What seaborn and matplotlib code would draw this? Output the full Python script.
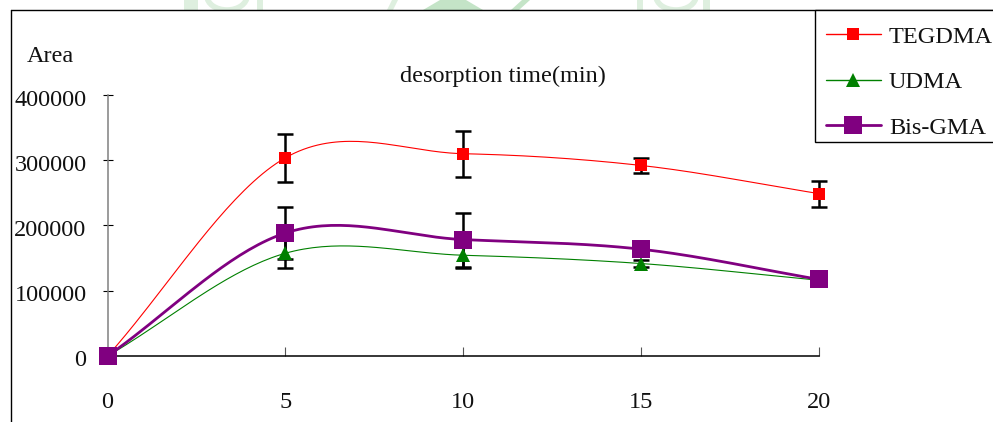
import numpy as np
import pandas as pd
import matplotlib
matplotlib.use("Agg")
import matplotlib.pyplot as plt
import matplotlib.transforms as mtransforms
from matplotlib.lines import Line2D
from matplotlib.patches import Rectangle, Polygon, Ellipse
import seaborn as sns

# Desorption data (peak area vs. desorption time)
time_min = [0, 5, 10, 15, 20]
tegdma = [0, 303800, 310000, 292000, 248800]
tegdma_err = [0, 36700, 35200, 12200, 19900]
udma = [0, 157500, 154400, 141700, 116000]
udma_err = [0, 23400, 20000, 5600, 4000]
bisgma = [0, 188500, 178400, 163600, 117300]
bisgma_err = [0, 40200, 41300, 8000, 5000]

series_names = ["TEGDMA", "UDMA", "Bis-GMA"]
series_colors = ["#FF0000", "#008000", "#800080"]
series_markers = ["s", "^", "s"]
series_msize = [8.6, 10.0, 13.3]
series_lw = [0.8, 0.8, 2.0]

W, H = 993, 422

sns.set_theme(style="white")
plt.rcParams["font.family"] = ["Liberation Serif", "DejaVu Serif"]


def fx(px):
    return px / W


def fy(py):
    return 1 - py / H


def smooth_curve(x, y, n=40):
    """Cubic Bezier smoothing through every point (spreadsheet-style)."""
    x = np.asarray(x, float)
    y = np.asarray(y, float)
    pts = np.column_stack([x, y])
    out = [pts[0]]
    m = len(pts)
    for i in range(m - 1):
        p1 = pts[i]
        p2 = pts[i + 1]
        if i == 0:
            c1 = p1 + (p2 - p1) / 3.0
        else:
            c1 = p1 + (p2 - pts[i - 1]) / 6.0
        if i + 2 > m - 1:
            c2 = p2 - (p2 - p1) / 3.0
        else:
            c2 = p2 - (pts[i + 2] - p1) / 6.0
        t = np.linspace(0, 1, n)[1:, None]
        seg = ((1 - t) ** 3) * p1 + 3 * ((1 - t) ** 2) * t * c1 + 3 * (1 - t) * t ** 2 * c2 + t ** 3 * p2
        out.extend(seg)
    out = np.array(out)
    return out[:, 0], out[:, 1]


fig = plt.figure(figsize=(W / 100, H / 100), dpi=100)
fig.patch.set_facecolor("white")

# faint watermark fragments along the top edge
wm_light = "#deefdf"
wm_mid = "#c4e4c7"
for x0, x1 in [(184, 198), (257, 263), (637, 643), (703, 710)]:
    fig.add_artist(Rectangle((fx(x0), fy(10)), fx(x1) - fx(x0), fy(0) - fy(10),
                             transform=fig.transFigure, color=wm_light, lw=0, zorder=0))
for cx, w in [(227, 40), (676, 40)]:
    fig.add_artist(Ellipse((fx(cx), fy(-4)), fx(w), 28 / H, transform=fig.transFigure,
                           facecolor="none", edgecolor=wm_light, lw=4, zorder=0))
fig.add_artist(Polygon([(fx(440), fy(0)), (fx(466), fy(0)), (fx(483), fy(10)), (fx(423), fy(10))],
                       closed=True, transform=fig.transFigure, color=wm_mid, lw=0, zorder=0))
fig.add_artist(Polygon([(fx(392), fy(0)), (fx(398), fy(0)), (fx(393), fy(10)), (fx(387), fy(10))],
                       closed=True, transform=fig.transFigure, color=wm_light, lw=0, zorder=0))
fig.add_artist(Polygon([(fx(522), fy(0)), (fx(530), fy(0)), (fx(519), fy(10)), (fx(511), fy(10))],
                       closed=True, transform=fig.transFigure, color=wm_mid, lw=0, zorder=0))
# white chart area below the frame line
fig.add_artist(Rectangle((0, 0), 1, fy(10), transform=fig.transFigure, color="white",
                         lw=0, zorder=0.5))

# outer frame (top and left edges)
fig.add_artist(Line2D([fx(11), 1.0], [fy(10), fy(10)], transform=fig.transFigure,
                      color="black", lw=1.0, zorder=1))
fig.add_artist(Line2D([fx(11), fx(11)], [0.0, fy(10)], transform=fig.transFigure,
                      color="black", lw=1.0, zorder=1))

# legend box
fig.add_artist(Rectangle((fx(815), fy(142)), 1.0 - fx(815) + 0.02, fy(10) - fy(142),
                         transform=fig.transFigure, facecolor="white", edgecolor="black",
                         lw=1.0, zorder=1.5))

ax = fig.add_axes([fx(107.5), fy(356), fx(819.3) - fx(107.5), fy(95) - fy(356)])
ax.set_facecolor("none")
ax.set_zorder(2)

all_vals = [tegdma, udma, bisgma]
all_errs = [tegdma_err, udma_err, bisgma_err]

# smoothed connecting lines
for name, vals, color, lw in zip(series_names, all_vals, series_colors, series_lw):
    sx, sy = smooth_curve(time_min, vals)
    df = pd.DataFrame({"t": sx, "area": sy})
    sns.lineplot(data=df, x="t", y="area", sort=False, estimator=None, color=color,
                 lw=lw, ax=ax, zorder=2, clip_on=False)

# error bars
for vals, errs in zip(all_vals, all_errs):
    ax.errorbar(time_min, vals, yerr=errs, fmt="none", ecolor="black", elinewidth=1.8,
                capsize=5.8, capthick=1.8, zorder=3, clip_on=False)

# markers on the measured points
for vals, color, mk, ms in zip(all_vals, series_colors, series_markers, series_msize):
    ax.plot(time_min, vals, linestyle="none", marker=mk, markersize=ms, color=color,
            markeredgewidth=0, zorder=4, clip_on=False)

ax.set_xlim(0, 20)
ax.set_ylim(0, 400000)
ax.set_xticks([0, 5, 10, 15, 20])
ax.set_yticks([0, 100000, 200000, 300000, 400000])
ax.set_xticklabels([str(v) for v in [0, 5, 10, 15, 20]])
ax.set_yticklabels([str(v) for v in [0, 100000, 200000, 300000, 400000]])
ax.set_xlabel("")
ax.set_ylabel("")

for s in ["top", "right"]:
    ax.spines[s].set_visible(False)
ax.spines["left"].set_color("#808080")
ax.spines["left"].set_linewidth(1.1)
ax.spines["bottom"].set_color("black")
ax.spines["bottom"].set_linewidth(1.1)

ax.tick_params(axis="y", left=True, direction="inout", length=7.2, width=0.8, color="black",
               labelsize=17.5, pad=11.5, labelcolor="#111111")
ax.tick_params(axis="x", bottom=True, direction="in", length=6.5, width=0.8, color="#555555",
               labelsize=17.5, pad=26, labelcolor="#111111")

shift_down = mtransforms.ScaledTranslation(0, -2.5 / 100, fig.dpi_scale_trans)
for lab in ax.get_yticklabels():
    lab.set_transform(lab.get_transform() + shift_down)

fig.text(fx(27), fy(62), "Area", fontsize=17.5, ha="left", va="baseline", color="#111111")
fig.text(fx(503), fy(82), "desorption time(min)", fontsize=17.5, ha="center",
         va="baseline", color="#111111")

handles = [Line2D([], [], color=c, lw=lw, marker=m, markersize=ms, markeredgewidth=0)
           for c, lw, m, ms in zip(series_colors, [1.0, 1.0, 2.0], series_markers, series_msize)]
leg = ax.legend(handles, series_names, loc="upper left", bbox_to_anchor=(fx(815), fy(15)),
                bbox_transform=fig.transFigure, borderaxespad=0, frameon=False,
                fontsize=17.5, handlelength=2.26, handletextpad=0.33, labelspacing=0.967,
                borderpad=0.45)
for t in leg.get_texts():
    t.set_color("#111111")

fig.savefig("out.png", dpi=100, facecolor="white")
